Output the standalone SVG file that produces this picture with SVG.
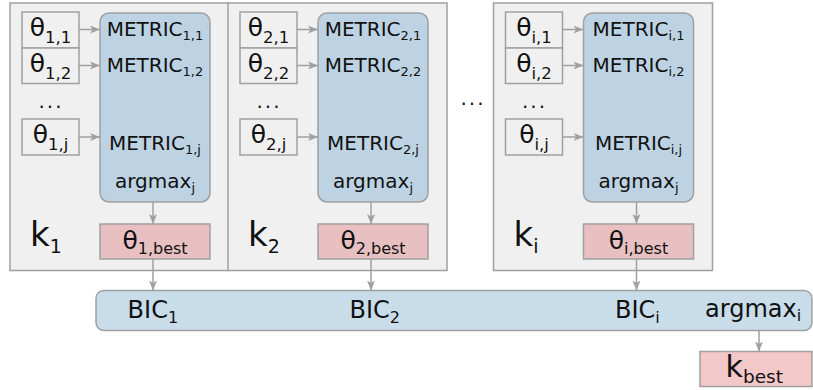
<svg xmlns="http://www.w3.org/2000/svg" width="813" height="390" viewBox="0 0 813 390">
<defs>
<style>
text{font-family:"DejaVu Sans","Liberation Sans",sans-serif;fill:#111;}
.outer{fill:#f0f0f0;stroke:#a0a0a0;stroke-width:1.5;}
.th{fill:#f0f0f0;stroke:#a0a0a0;stroke-width:1.5;}
.blue{fill:#bdd3e3;stroke:#a0a0a0;stroke-width:1.5;}
.pink{fill:#e9c0c1;stroke:#a0a0a0;stroke-width:1.5;}
.bar{fill:#c8dcea;stroke:#a0a0a0;stroke-width:1.5;}
.pink2{fill:#f2c8c9;stroke:#a0a0a0;stroke-width:1.5;}
.t22{font-size:25px;text-anchor:middle;}
.t20{font-size:20px;text-anchor:middle;}
.s15{font-size:16.5px;}
.s13{font-size:13px;}
.s16{font-size:16px;}
.k{font-size:34px;}
.s19{font-size:19px;}
.b24{font-size:24px;}
.dots{font-size:20px;text-anchor:middle;letter-spacing:2px;}
.conn line{stroke:#a0a0a0;stroke-width:1.5;fill:none;marker-end:url(#ah);}
</style>
<marker id="ah" markerUnits="userSpaceOnUse" markerWidth="11" markerHeight="9" refX="10" refY="4.5" orient="auto">
<path d="M0,0.5 L10,4.5 L0,8.5 L2.5,4.5 Z" fill="#a0a0a0"/>
</marker>
</defs>

<g id="k1">
<rect class="outer" x="10" y="3" width="219" height="267.5"/>
<rect class="th" x="22" y="12" width="57" height="36"/>
<rect class="th" x="22" y="48" width="57" height="35.5"/>
<rect class="th" x="22" y="119" width="57" height="36"/>
<text class="t22" x="50.5" y="36">θ<tspan class="s15" dy="7">1,1</tspan></text>
<text class="t22" x="50.5" y="72">θ<tspan class="s15" dy="7">1,2</tspan></text>
<text class="dots" x="51" y="108">...</text>
<text class="t22" x="50.5" y="143">θ<tspan class="s15" dy="7">1,j</tspan></text>
<rect class="blue" x="100" y="13" width="110" height="189" rx="9"/>
<text class="t20" x="155" y="36">METRIC<tspan class="s13" dy="4">1,1</tspan></text>
<text class="t20" x="155" y="72.3">METRIC<tspan class="s13" dy="4">1,2</tspan></text>
<text class="t20" x="155" y="150">METRIC<tspan class="s13" dy="4">1,j</tspan></text>
<text class="t20" x="155" y="188">argmax<tspan class="s13" dy="4">j</tspan></text>
<rect class="pink" x="100" y="224" width="110" height="35"/>
<text class="t22" x="155" y="249">θ<tspan class="s16" dy="5">1,best</tspan></text>
<text class="k" x="30" y="246">k<tspan class="s19" dy="7">1</tspan></text>
</g>

<g id="k2" transform="translate(218,0)">
<rect class="outer" x="10" y="3" width="219" height="267.5"/>
<rect class="th" x="22" y="12" width="57" height="36"/>
<rect class="th" x="22" y="48" width="57" height="35.5"/>
<rect class="th" x="22" y="119" width="57" height="36"/>
<text class="t22" x="50.5" y="36">θ<tspan class="s15" dy="7">2,1</tspan></text>
<text class="t22" x="50.5" y="72">θ<tspan class="s15" dy="7">2,2</tspan></text>
<text class="dots" x="51" y="108">...</text>
<text class="t22" x="50.5" y="143">θ<tspan class="s15" dy="7">2,j</tspan></text>
<rect class="blue" x="100" y="13" width="110" height="189" rx="9"/>
<text class="t20" x="155" y="36">METRIC<tspan class="s13" dy="4">2,1</tspan></text>
<text class="t20" x="155" y="72.3">METRIC<tspan class="s13" dy="4">2,2</tspan></text>
<text class="t20" x="155" y="150">METRIC<tspan class="s13" dy="4">2,j</tspan></text>
<text class="t20" x="155" y="188">argmax<tspan class="s13" dy="4">j</tspan></text>
<rect class="pink" x="100" y="224" width="110" height="35"/>
<text class="t22" x="155" y="249">θ<tspan class="s16" dy="5">2,best</tspan></text>
<text class="k" x="30" y="246">k<tspan class="s19" dy="7">2</tspan></text>
</g>

<g id="mid-dots">
<text class="dots" x="473" y="105">...</text>
</g>

<g id="ki" transform="translate(483.5,0)">
<rect class="outer" x="10" y="3" width="219" height="267.5"/>
<rect class="th" x="22" y="12" width="57" height="36"/>
<rect class="th" x="22" y="48" width="57" height="35.5"/>
<rect class="th" x="22" y="119" width="57" height="36"/>
<text class="t22" x="50.5" y="36">θ<tspan class="s15" dy="7">i,1</tspan></text>
<text class="t22" x="50.5" y="72">θ<tspan class="s15" dy="7">i,2</tspan></text>
<text class="dots" x="51" y="108">...</text>
<text class="t22" x="50.5" y="143">θ<tspan class="s15" dy="7">i,j</tspan></text>
<rect class="blue" x="100" y="13" width="110" height="189" rx="9"/>
<text class="t20" x="155" y="36">METRIC<tspan class="s13" dy="4">i,1</tspan></text>
<text class="t20" x="155" y="72.3">METRIC<tspan class="s13" dy="4">i,2</tspan></text>
<text class="t20" x="155" y="150">METRIC<tspan class="s13" dy="4">i,j</tspan></text>
<text class="t20" x="155" y="188">argmax<tspan class="s13" dy="4">j</tspan></text>
<rect class="pink" x="100" y="224" width="110" height="35"/>
<text class="t22" x="155" y="249">θ<tspan class="s16" dy="5">i,best</tspan></text>
<text class="k" x="30" y="246">k<tspan class="s19" dy="7">i</tspan></text>
</g>

<g id="bic">
<rect class="bar" x="96" y="290.5" width="716" height="40" rx="8"/>
<text class="b24" x="127.6" y="318.3">BIC<tspan class="s16" dy="5">1</tspan></text>
<text class="b24" x="349.5" y="318.3">BIC<tspan class="s16" dy="5">2</tspan></text>
<text class="b24" x="615" y="318.3">BIC<tspan class="s16" dy="5">i</tspan></text>
<text class="b24" x="705" y="317">argmax<tspan class="s16" dy="4">i</tspan></text>
</g>

<g id="kbest">
<rect class="pink2" x="700" y="351.5" width="112" height="35"/>
<text x="725.6" y="376.7" style="font-size:30px">k<tspan style="font-size:18.5px" dy="6">best</tspan></text>
</g>

<g id="connectors" class="conn">
<line x1="79" y1="29.5" x2="100" y2="29.5"/>
<line x1="79" y1="65.5" x2="100" y2="65.5"/>
<line x1="79" y1="137" x2="100" y2="137"/>
<line x1="153" y1="202" x2="153" y2="224"/>
<line x1="153" y1="259" x2="153" y2="290.5"/>
<line x1="297" y1="29.5" x2="318" y2="29.5"/>
<line x1="297" y1="65.5" x2="318" y2="65.5"/>
<line x1="297" y1="137" x2="318" y2="137"/>
<line x1="371" y1="202" x2="371" y2="224"/>
<line x1="371" y1="259" x2="371" y2="290.5"/>
<line x1="562.5" y1="29.5" x2="583.5" y2="29.5"/>
<line x1="562.5" y1="65.5" x2="583.5" y2="65.5"/>
<line x1="562.5" y1="137" x2="583.5" y2="137"/>
<line x1="636.5" y1="202" x2="636.5" y2="224"/>
<line x1="636.5" y1="259" x2="636.5" y2="290.5"/>
<line x1="759" y1="330.5" x2="759" y2="351.5"/>
</g>
</svg>
